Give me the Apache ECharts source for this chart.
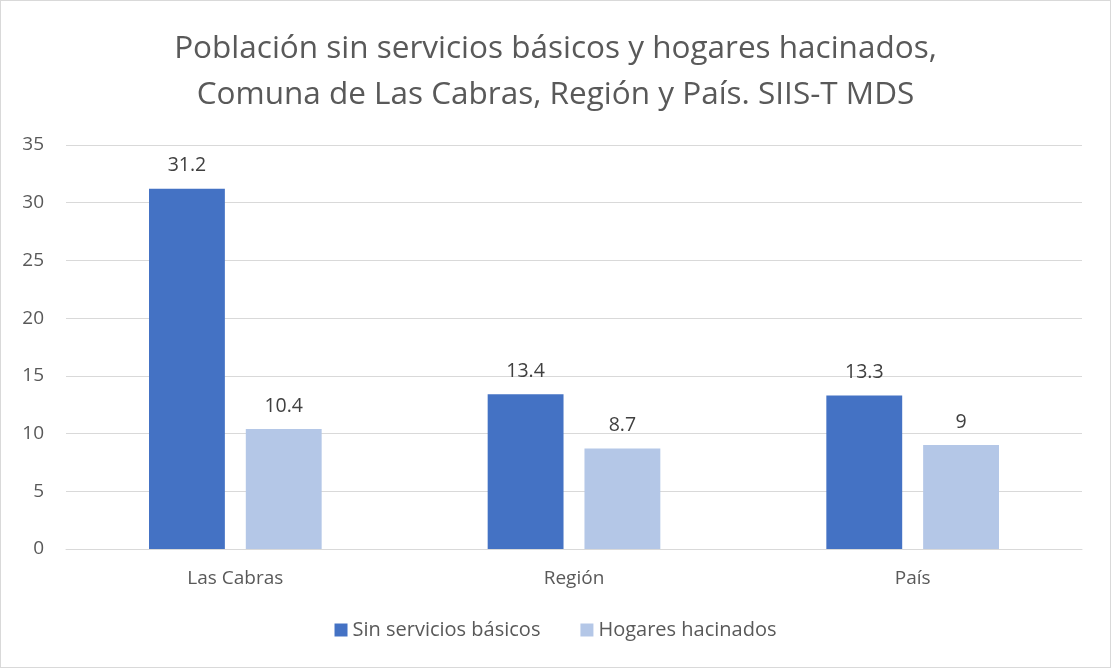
<!DOCTYPE html>
<html>
<head>
<meta charset="utf-8">
<script src="https://cdn.jsdelivr.net/npm/echarts@6/dist/echarts.min.js"></script>
<style>
  html, body { margin: 0; padding: 0; background: #fff; }
  #chart { width: 1109px; height: 666px; border: 1px solid #d9d9d9; }
</style>
</head>
<body>
<div id="chart"></div>
<script>
// datos
var categories = ['Las Cabras', 'Región', 'País'];
var sinServicios = [31.2, 13.4, 13.3];
var hogaresHacinados = [10.4, 8.7, 9];
var seriesNames = ['Sin servicios básicos', 'Hogares hacinados'];

var font = '"Open Sans", Lato, sans-serif';

var chart = echarts.init(document.getElementById('chart'));

var labelStyle = {
    show: true,
    position: 'top',
    distance: 13,
    color: '#404040',
    fontSize: 19.5,
    fontFamily: font
};

chart.setOption({
    animation: false,
    title: {
        text: 'Población sin servicios básicos y hogares hacinados,\nComuna de Las Cabras, Región y País. SIIS-T MDS',
        left: 'center',
        top: 20,
        textStyle: {
            color: '#595959',
            fontSize: 31.5,
            fontWeight: 'normal',
            fontFamily: font,
            lineHeight: 46
        }
    },
    legend: {
        bottom: 22,
        left: 'center',
        itemWidth: 13,
        itemHeight: 13,
        itemGap: 40,
        icon: 'rect',
        textStyle: { color: '#595959', fontSize: 20, fontFamily: font },
        data: seriesNames
    },
    grid: {
        left: 65,
        right: 28,
        top: 144,
        bottom: 118
    },
    xAxis: {
        type: 'category',
        data: categories,
        axisLine: { lineStyle: { color: '#d9d9d9' } },
        axisTick: { show: false },
        axisLabel: { color: '#595959', fontSize: 19, fontFamily: font, margin: 20 }
    },
    yAxis: {
        type: 'value',
        min: 0,
        max: 35,
        interval: 5,
        axisLine: { show: false },
        axisTick: { show: false },
        splitLine: { lineStyle: { color: '#d9d9d9' } },
        axisLabel: { color: '#595959', fontSize: 19, fontFamily: font, margin: 22 }
    },
    series: [
        {
            name: seriesNames[0],
            type: 'bar',
            data: sinServicios,
            barWidth: '22.4%',
            barGap: '27.6%',
            itemStyle: { color: '#4472C4' },
            label: labelStyle
        },
        {
            name: seriesNames[1],
            type: 'bar',
            data: hogaresHacinados,
            barWidth: '22.4%',
            itemStyle: { color: '#B4C7E7' },
            label: labelStyle
        }
    ]
});
</script>
</body>
</html>
